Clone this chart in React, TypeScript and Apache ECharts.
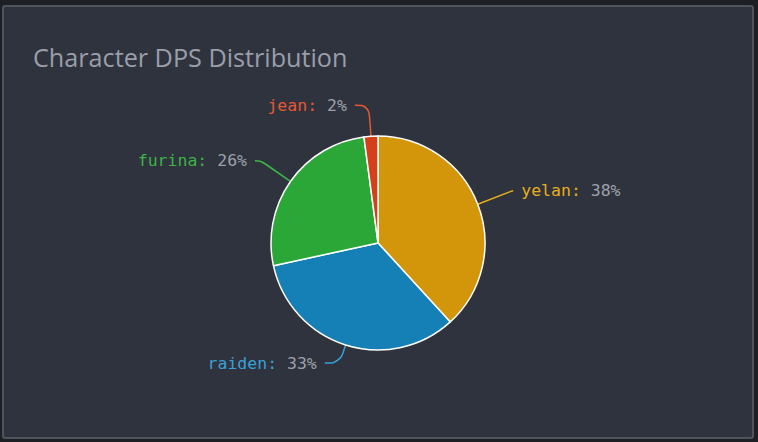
import React, { useEffect, useRef } from "react";
import * as echarts from "echarts";

const names = ["yelan", "raiden", "furina", "jean"];
const values = [38.2, 33.4, 26.3, 2.1];
const sliceColors = ["#d3960b", "#1480b5", "#2aa737", "#d4401b"];
const labelColors = ["#e8ae1c", "#3aa0d8", "#3cb346", "#e35a32"];
const titleText = "Character DPS Distribution";

const lineLen = [37, 19, 36, 31];
const lineLen2 = [1, 15, 6, 14];

export default function App() {
  const ref = useRef<HTMLDivElement>(null);
  useEffect(() => {
    if (!ref.current) return;
    const chart = echarts.init(ref.current, undefined, { renderer: "svg" });
    const data = names.map((n, i) => ({
      name: n,
      value: values[i],
      itemStyle: { color: sliceColors[i] },
      labelLine: { length: lineLen[i], length2: lineLen2[i], lineStyle: { color: labelColors[i] } },
      label: {
        rich: {
          n: { color: labelColors[i], fontFamily: "DejaVu Sans Mono", fontSize: 16.5 },
          p: { color: "#9ca1ab", fontFamily: "DejaVu Sans Mono", fontSize: 16.5 },
        },
      },
    }));
    chart.setOption({
      animation: false,
      backgroundColor: "transparent",
      title: {
        text: titleText,
        left: 28,
        top: 39,
        textStyle: {
          color: "#9a9eab",
          fontSize: 25.2,
          fontWeight: "normal",
          fontFamily: "Open Sans",
        },
      },
      series: [
        {
          type: "pie",
          center: [378, 243],
          radius: 107,
          startAngle: 90,
          clockwise: true,
          data,
          itemStyle: { borderColor: "#ffffff", borderWidth: 1.5 },
          label: {
            show: true,
            fontFamily: "DejaVu Sans Mono",
            fontSize: 16.5,
            color: "#9ca1ab",
            distanceToLabelLine: 8,
            formatter: (p: any) => `{n|${p.name}: }{p|${Math.round(p.percent)}%}`,
          },
          labelLine: { show: true, smooth: 0.4, lineStyle: { width: 1.5 } },
        },
      ],
    });
    return () => chart.dispose();
  }, []);
  return (
    <div style={{ position: "fixed", left: 0, top: 0, width: 758, height: 442, background: "#1d1f24" }}>
      <div
        style={{
          position: "absolute",
          left: 2,
          top: 5,
          width: 748,
          height: 430,
          background: "#2f333d",
          border: "2px solid #4f535b",
          borderRadius: 3,
        }}
      />
      <div ref={ref} style={{ position: "absolute", left: 0, top: 0, width: 758, height: 442 }} />
    </div>
  );
}
